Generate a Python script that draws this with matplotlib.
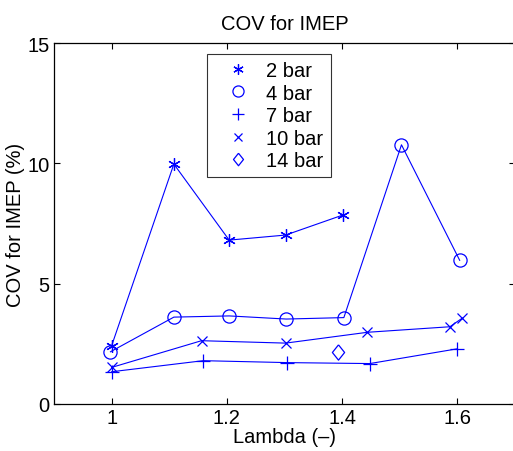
import numpy as np
import matplotlib.pyplot as plt

plt.rcParams['font.family'] = ['Liberation Sans', 'DejaVu Sans']

# Data
lam_2 = [1.0, 1.108, 1.204, 1.302, 1.401]
cov_2 = [2.42, 9.97, 6.81, 7.02, 7.85]

lam_4 = [0.998, 1.108, 1.204, 1.303, 1.403, 1.503, 1.604]
cov_4 = [2.17, 3.61, 3.66, 3.53, 3.59, 10.77, 5.97]

lam_7 = [1.0, 1.159, 1.304, 1.448, 1.599]
cov_7 = [1.34, 1.80, 1.72, 1.68, 2.29]

lam_10 = [1.0, 1.156, 1.302, 1.444, 1.587, 1.608]
cov_10 = [1.52, 2.63, 2.53, 2.98, 3.21, 3.56]

lam_14 = [1.392]
cov_14 = [2.15]

labels = ['2 bar', '4 bar', '7 bar', '10 bar', '14 bar']

fig = plt.figure(figsize=(5.13, 4.52), dpi=100)
ax = fig.add_axes([54/513, 47/452, 461/513, 361/452])

blue = (0, 0, 1)
lw = 0.8
mew = 0.9
star = (6, 2, 0)
diamond = [(0, 1), (0.8, 0), (0, -1), (-0.8, 0), (0, 1)]

ax.plot(lam_2, cov_2, '-', color=blue, lw=lw, marker=star, ms=9, mew=mew)
ax.plot(lam_4, cov_4, '-', color=blue, lw=lw, marker='o', ms=9.5, mfc='none', mew=mew)
ax.plot(lam_7, cov_7, '-', color=blue, lw=lw, marker='+', ms=10, mew=mew)
ax.plot(lam_10, cov_10, '-', color=blue, lw=lw, marker='x', ms=7.5, mew=mew)
ax.plot(lam_14, cov_14, '-', color=blue, lw=lw, marker=diamond, ms=11, mfc='none', mew=mew)

# legend shows markers only
handles = [
    plt.Line2D([], [], ls='none', color=blue, marker=star, ms=7.5, mew=mew),
    plt.Line2D([], [], ls='none', color=blue, marker='o', ms=8, mfc='none', mew=mew),
    plt.Line2D([], [], ls='none', color=blue, marker='+', ms=8.5, mew=mew),
    plt.Line2D([], [], ls='none', color=blue, marker='x', ms=5.5, mew=mew),
    plt.Line2D([], [], ls='none', color=blue, marker=diamond, ms=9, mfc='none', mew=mew),
]
leg = ax.legend(handles, labels, loc='upper left', bbox_to_anchor=(0.332, 0.97),
                fontsize=14.5, frameon=True, fancybox=False, edgecolor='black',
                handlelength=2.4, handletextpad=0.2, labelspacing=0.18,
                borderpad=0.35, borderaxespad=0)
leg.get_frame().set_linewidth(0.8)

ax.set_xlim(0.9, 1.7)
ax.set_ylim(0, 15)
ax.set_xticks([1, 1.2, 1.4, 1.6])
ax.set_xticklabels(['1', '1.2', '1.4', '1.6'])
ax.set_yticks([0, 5, 10, 15])
ax.tick_params(direction='in', length=4, width=0.8, top=True, right=True,
               labelsize=14.5, pad=3)
for s in ax.spines.values():
    s.set_linewidth(0.9)

ax.set_title('COV for IMEP', fontsize=14.5, pad=10)
ax.set_xlabel('Lambda (\u2013)', fontsize=14.5, labelpad=0)
ax.set_ylabel('COV for IMEP (%)', fontsize=14.5, labelpad=2)

fig.savefig('out.png', dpi=100)
